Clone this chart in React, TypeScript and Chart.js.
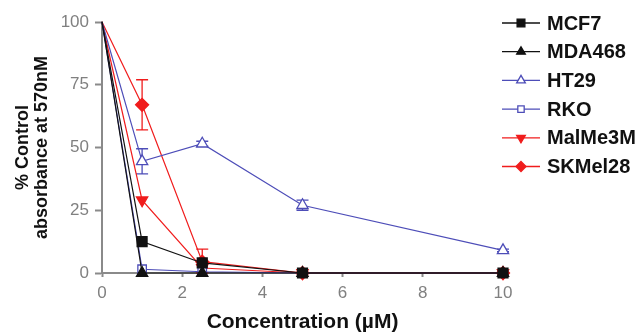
import React, { useEffect, useRef } from "react";
import { Chart, registerables } from "chart.js";

Chart.register(...registerables);

const concentrations = [0, 1, 2.5, 5, 10];
const seriesNames = ["MCF7", "MDA468", "HT29", "RKO", "MalMe3M", "SKMel28"];
const mcf7 = [100, 12.5, 4, 0, 0];
const mda468 = [100, 0, 0, 0, 0];
const ht29 = [100, 44.5, 51.5, 27, 9];
const ht29Err = [0, 5, 1, 2, 0.5];
const rko = [100, 1.5, 0.5, 0, 0];
const malme3m = [100, 29, 2, 0, 0];
const skmel28 = [100, 67, 4.5, 0, 0];
const skmel28Err = [0, 10, 5, 0, 0];
const xTicks = [0, 2, 4, 6, 8, 10];
const yTicks = [0, 25, 50, 75, 100];

const BLACK = "#111111";
const BLUE = "#4d4db8";
const RED = "#f01c1c";
const AXIS = "#8a8a8a";
const FONT = "'Liberation Sans', Arial, sans-serif";

type Style = { color: string; shape: string; rot: number; r: number; open: boolean };
const styles: Style[] = [
  { color: BLACK, shape: "rect", rot: 0, r: 7, open: false },
  { color: BLACK, shape: "triangle", rot: 0, r: 6.5, open: false },
  { color: BLUE, shape: "triangle", rot: 0, r: 6.5, open: true },
  { color: BLUE, shape: "rect", rot: 0, r: 6, open: true },
  { color: RED, shape: "triangle", rot: 180, r: 6.5, open: false },
  { color: RED, shape: "rectRot", rot: 0, r: 6.5, open: false },
];
const seriesValues = [mcf7, mda468, ht29, rko, malme3m, skmel28];
const seriesErrors = [null, null, ht29Err, null, null, skmel28Err];

function drawMarker(ctx: CanvasRenderingContext2D, s: Style, x: number, y: number, r: number) {
  ctx.save();
  ctx.translate(x, y);
  ctx.rotate((s.rot * Math.PI) / 180);
  ctx.beginPath();
  if (s.shape === "rect") {
    const h = r * Math.SQRT1_2;
    ctx.rect(-h, -h, 2 * h, 2 * h);
  } else if (s.shape === "rectRot") {
    ctx.moveTo(0, -r);
    ctx.lineTo(r, 0);
    ctx.lineTo(0, r);
    ctx.lineTo(-r, 0);
    ctx.closePath();
  } else {
    for (let i = 0; i < 3; i++) {
      const a = (i * 2 * Math.PI) / 3;
      const px = Math.sin(a) * r;
      const py = -Math.cos(a) * r;
      if (i === 0) ctx.moveTo(px, py);
      else ctx.lineTo(px, py);
    }
    ctx.closePath();
  }
  ctx.fillStyle = s.open ? "#ffffff" : s.color;
  ctx.fill();
  ctx.lineWidth = 1.3;
  ctx.strokeStyle = s.color;
  ctx.stroke();
  ctx.restore();
}

const errorBarPlugin = {
  id: "errorBars",
  beforeDatasetsDraw(chart: any) {
    const ctx = chart.ctx;
    const xs = chart.scales.x;
    const ys = chart.scales.y;
    seriesErrors.forEach((errs, di) => {
      if (!errs) return;
      const vals = seriesValues[di];
      ctx.save();
      ctx.strokeStyle = styles[di].color;
      ctx.lineWidth = 1.3;
      errs.forEach((e, i) => {
        if (!e) return;
        const x = xs.getPixelForValue(concentrations[i]);
        const yTop = ys.getPixelForValue(vals[i] + e);
        const yBot = ys.getPixelForValue(Math.max(0, vals[i] - e));
        ctx.beginPath();
        ctx.moveTo(x, yTop);
        ctx.lineTo(x, yBot);
        ctx.moveTo(x - 6, yTop);
        ctx.lineTo(x + 6, yTop);
        ctx.moveTo(x - 6, yBot);
        ctx.lineTo(x + 6, yBot);
        ctx.stroke();
      });
      ctx.restore();
    });
  },
};

const legendPlugin = {
  id: "customLegend",
  afterDraw(chart: any) {
    const ctx = chart.ctx;
    const x0 = chart.chartArea.right - 1;
    ctx.save();
    seriesNames.forEach((name, i) => {
      const y = 23 + i * 28.7;
      const s = styles[i];
      ctx.strokeStyle = s.color;
      ctx.lineWidth = 1.3;
      ctx.beginPath();
      ctx.moveTo(x0, y);
      ctx.lineTo(x0 + 38, y);
      ctx.stroke();
      drawMarker(ctx, s, x0 + 19, y, s.r - 1.5);
      ctx.fillStyle = "#111111";
      ctx.font = `bold 20px ${FONT}`;
      ctx.textAlign = "left";
      ctx.textBaseline = "middle";
      ctx.fillText(name, x0 + 45, y + 1);
    });
    ctx.restore();
  },
};

export default function App() {
  const ref = useRef<HTMLCanvasElement | null>(null);
  useEffect(() => {
    if (!ref.current) return;
    const datasets = seriesNames.map((name, i) => ({
      label: name,
      data: concentrations.map((c, j) => ({ x: c, y: seriesValues[i][j] })),
      borderColor: styles[i].color,
      borderWidth: 1.2,
      pointStyle: styles[i].shape,
      pointRotation: styles[i].rot,
      pointRadius: concentrations.map((c) => (c === 0 ? 0 : styles[i].r)),
      pointBackgroundColor: styles[i].open ? "#ffffff" : styles[i].color,
      pointBorderColor: styles[i].color,
      pointBorderWidth: 1.3,
      backgroundColor: styles[i].color,
      tension: 0,
      fill: false,
      clip: false as any,
    }));
    const chart = new Chart(ref.current, {
      type: "line",
      data: { datasets },
      plugins: [errorBarPlugin, legendPlugin],
      options: {
        animation: false,
        responsive: false,
        maintainAspectRatio: false,
        layout: { padding: { left: 0, right: 136, top: 22, bottom: 0 } },
        plugins: { legend: { display: false }, tooltip: { enabled: false } },
        scales: {
          x: {
            type: "linear",
            min: 0,
            max: 10,
            afterBuildTicks: (scale: any) => {
              scale.ticks = xTicks.map((v) => ({ value: v }));
            },
            afterFit: (scale: any) => {
              scale.height = 60;
            },
            grid: { drawOnChartArea: false, drawTicks: true, tickLength: 4, color: AXIS, tickWidth: 2 },
            border: { display: true, color: AXIS, width: 2 },
            ticks: { color: "#808080", font: { family: FONT, size: 17 }, padding: 6, maxRotation: 0 },
            title: {
              display: true,
              text: "Concentration (\u00b5M)",
              color: "#111111",
              font: { family: FONT, size: 21, weight: "bold", lineHeight: 1 },
              padding: { top: 0, bottom: 0 },
            },
          },
          y: {
            type: "linear",
            min: 0,
            max: 100,
            afterBuildTicks: (scale: any) => {
              scale.ticks = yTicks.map((v) => ({ value: v }));
            },
            afterFit: (scale: any) => {
              scale.width = 102;
            },
            grid: { drawOnChartArea: false, drawTicks: true, tickLength: 7, color: AXIS, tickWidth: 2 },
            border: { display: true, color: AXIS, width: 2 },
            ticks: { color: "#808080", font: { family: FONT, size: 17 }, padding: 6 },
            title: {
              display: true,
              text: ["% Control", "absorbance at 570nM"],
              color: "#111111",
              font: { family: FONT, size: 18, weight: "bold", lineHeight: 1.05 },
              padding: { top: 14, bottom: 0 },
            },
          },
        },
      } as any,
    });
    return () => chart.destroy();
  }, []);
  return (
    <div style={{ position: "fixed", left: 0, top: 0, width: 639, height: 333, background: "#ffffff" }}>
      <canvas ref={ref} width={639} height={333} style={{ width: 639, height: 333, display: "block" }} />
    </div>
  );
}
